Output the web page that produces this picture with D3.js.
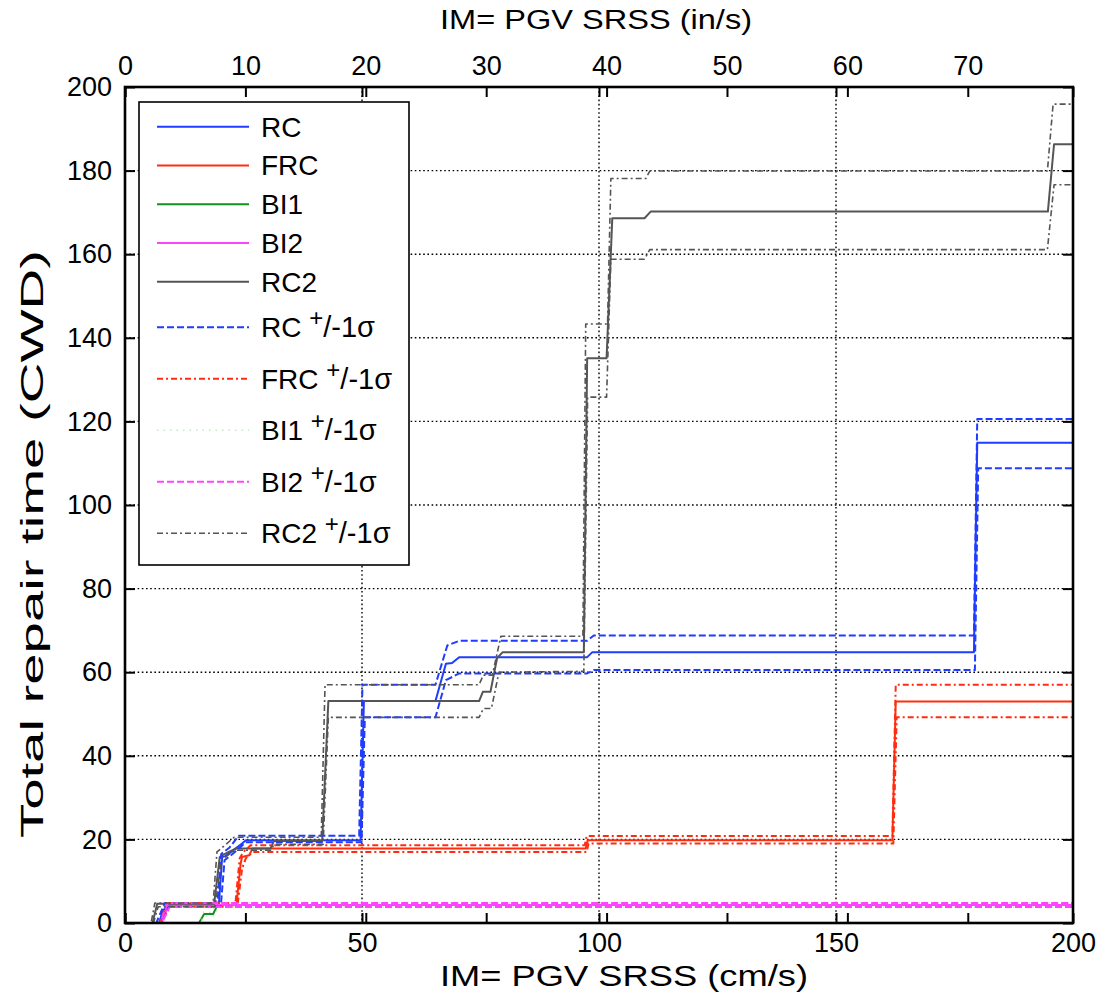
<!DOCTYPE html>
<html>
<head>
<meta charset="utf-8">
<script src="https://cdn.jsdelivr.net/npm/d3@7"></script>
<style>
  html, body { margin: 0; padding: 0; background: #fff; }
  svg { display: block; }
  text { font-family: "Liberation Sans", Arial, Helvetica, sans-serif; fill: #000; }
</style>
</head>
<body>
<svg id="chart" width="1104" height="998"></svg>
<script>
// ---------------- DATA (x: PGV SRSS cm/s, y: total repair time CWD) ----------------
const rc = [[0,0],[7.2,0],[7.9,2.7],[8.9,4.3],[19.8,4.3],[20.5,15.8],[21.2,16],[22.6,17.2],[24.7,19.0],[25.5,19.8],[49.7,19.8],[50.4,53.1],[65.5,53.1],[67.7,62],[69,62.2],[70.5,63.6],[97.5,63.6],[98.6,64.8],[179.1,64.8],[179.8,114.9],[200,114.9]];
const rcUp = [[0,0],[6.6,0],[8.4,4.8],[19.5,4.8],[20.3,16.5],[22,18],[24,20.9],[49.4,20.9],[50.1,57],[65.5,57],[68,66.4],[70.5,67.5],[97.5,67.5],[98.9,68.8],[179.1,68.8],[179.8,120.6],[200,120.6]];
const rcLo = [[0,0],[7.4,0],[9.2,3.9],[20.2,3.9],[21,15],[23,16.8],[25.5,19.3],[49.9,19.3],[50.6,49.2],[65.5,49.2],[67.7,58.1],[70.5,59.7],[97.5,59.7],[98.9,60.5],[179.3,60.5],[180,108.8],[200,108.8]];

const frc = [[0,0],[7.5,0],[9.1,4.3],[23.5,4.3],[24.4,14.2],[24.7,15.8],[26.2,16.2],[26.9,17.8],[97.2,17.8],[97.6,19.8],[161.9,19.8],[162.6,53],[200,53]];
const frcUp = [[0,0],[7.3,0],[8.9,4.8],[23.3,4.8],[24.2,15.5],[25,17],[26.5,18.6],[97,18.6],[97.4,20.8],[161.9,20.8],[162.6,57],[200,57]];
const frcLo = [[0,0],[7.7,0],[9.3,3.9],[23.7,3.9],[24.7,13],[25.5,15.5],[27,17],[97.4,17],[97.8,19],[162.1,19],[162.8,49.2],[200,49.2]];

const bi1 = [[0,0],[15.6,0],[16.7,2.15],[18.6,2.15],[19.5,4.3],[200,4.3]];
const bi1Up = [[0,0],[15.4,0],[16.5,2.6],[18.4,2.6],[19.3,4.8],[200,4.8]];
const bi1Lo = [[0,0],[15.8,0],[16.9,1.7],[18.8,1.7],[19.7,3.8],[200,3.8]];

const bi2 = [[0,0],[7.6,0],[9.2,4.3],[200,4.3]];
const bi2Up = [[0,0],[7.4,0],[9.0,4.8],[200,4.8]];
const bi2Lo = [[0,0],[7.8,0],[9.4,3.8],[200,3.8]];

const rc2 = [[0,0],[5.8,0],[6.8,4.6],[18.8,4.6],[20,15.8],[20.5,16.2],[21.9,17],[23.4,17.8],[30.7,17.8],[31.4,19.6],[41.6,19.6],[42.9,53.1],[74.7,53.1],[75.5,55.3],[77.1,55.3],[78.5,63.4],[79.7,64.8],[96.8,64.8],[97.5,135.1],[101.6,135.1],[102.8,168.6],[109.6,168.6],[110.9,170.2],[194.7,170.2],[196,186.3],[200,186.3]];
const rc2Up = [[0,0],[5.5,0],[6.3,4.8],[18.6,4.8],[19.4,17],[21,18.5],[23,20.5],[41.4,20.5],[42.2,57],[74.7,57],[75.6,59.3],[77.5,59.3],[79.3,68.6],[96.6,68.6],[97.2,143.3],[101.8,143.3],[102.5,178.1],[109.9,178.1],[110.7,179.9],[194.6,179.9],[195.8,195.9],[200,195.9]];
const rc2Lo = [[0,0],[6,0],[7,3.9],[19,3.9],[20.3,15],[22,16.5],[23.5,17.4],[30.7,17.4],[31.5,18.8],[41.8,18.8],[42.9,49.2],[74.7,49.2],[75.6,51.3],[77.3,51.3],[78.9,60],[96.8,60.2],[97.6,125.8],[101.6,125.8],[102.5,158.8],[109.6,158.8],[110.7,161.1],[194.6,161.1],[196,176.6],[200,176.6]];

const xTicksCm = [0, 50, 100, 150, 200];
const xTicksIn = [0, 10, 20, 30, 40, 50, 60, 70];
const yTicks = [0, 20, 40, 60, 80, 100, 120, 140, 160, 180, 200];
const gridY = [20, 40, 60, 80, 100, 120, 140, 160, 180];
const gridX = [50, 100, 150];

const legendLabels = ["RC", "FRC", "BI1", "BI2", "RC2", "RC", "FRC", "BI1", "BI2", "RC2"];

// ---------------- STYLE ----------------
const BLUE = "#1f3cff", RED = "#ff2d0f", GREEN = "#14901e", PINK = "#ff44ff", GRAY = "#555555";
const series = [
  { d: rc,  color: BLUE,  dash: null, w: 2 },
  { d: frc, color: RED,   dash: null, w: 2 },
  { d: bi1, color: GREEN, dash: null, w: 2 },
  { d: bi2, color: PINK,  dash: null, w: 2 },
  { d: rc2, color: GRAY,  dash: null, w: 2 },
  { d: rcUp,  color: BLUE, dash: "7,3", w: 2 }, { d: rcLo,  color: BLUE, dash: "7,3", w: 2 },
  { d: frcUp, color: RED,  dash: "6,3,2,3", w: 2 }, { d: frcLo, color: RED, dash: "6,3,2,3", w: 2 },
  { d: bi1Up, color: "#c6e6c6", dash: "1.5,5", w: 1.5 }, { d: bi1Lo, color: "#c6e6c6", dash: "1.5,5", w: 1.5 },
  { d: bi2Up, color: PINK, dash: "7,3", w: 2 }, { d: bi2Lo, color: PINK, dash: "7,3", w: 2 },
  { d: rc2Up, color: GRAY, dash: "6,3,2,3", w: 1.6 }, { d: rc2Lo, color: GRAY, dash: "6,3,2,3", w: 1.6 }
];
const legendStyles = [series[0], series[1], series[2], series[3], series[4], series[5], series[7], series[9], series[11], series[13]];

// ---------------- CHART ----------------
const L = 125, R = 1073, T = 87, B = 923;
const svg = d3.select("#chart");
const x = d3.scaleLinear().domain([0, 200]).range([L, R]);
const xIn = d3.scaleLinear().domain([0, 200 / 2.54]).range([L, R]);
const y = d3.scaleLinear().domain([0, 200]).range([B, T]);

// grid
const grid = svg.append("g").attr("stroke", "#000").attr("stroke-width", 1.4).attr("stroke-dasharray", "1.6,2.6");
grid.selectAll("line.gy").data(gridY).join("line")
  .attr("x1", L).attr("x2", R).attr("y1", d => y(d)).attr("y2", d => y(d));
grid.selectAll("line.gx").data(gridX).join("line")
  .attr("y1", T).attr("y2", B).attr("x1", d => x(d)).attr("x2", d => x(d));

// data lines
svg.append("clipPath").attr("id", "clip").append("rect")
  .attr("x", L).attr("y", T - 1).attr("width", R - L).attr("height", B - T + 1);
const line = d3.line().x(d => x(d[0])).y(d => y(d[1]));
svg.append("g").attr("clip-path", "url(#clip)")
  .selectAll("path").data(series).join("path")
  .attr("d", s => line(s.d))
  .attr("fill", "none")
  .attr("stroke", s => s.color)
  .attr("stroke-width", s => s.w)
  .attr("stroke-dasharray", s => s.dash)
  .attr("stroke-linejoin", "round");

// axes
const TS = 10;
function styleAxis(g, labels) {
  g.select(".domain").remove();
  g.selectAll(".tick line").attr("stroke", "#000").attr("stroke-width", 2);
  g.selectAll(".tick text").attr("font-size", 27).attr("fill", "#000");
  if (!labels) g.selectAll(".tick text").remove();
}
svg.append("g").attr("transform", `translate(0,${B})`)
  .call(d3.axisBottom(x).tickValues(xTicksCm).tickSize(-TS).tickPadding(10).tickFormat(d3.format("d")))
  .call(g => styleAxis(g, true));
svg.append("g").attr("transform", `translate(0,${T})`)
  .call(d3.axisTop(x).tickValues(xTicksCm).tickSize(-TS))
  .call(g => styleAxis(g, false));
svg.append("g").attr("transform", `translate(0,${T})`)
  .call(d3.axisTop(xIn).tickValues(xTicksIn).tickSize(-TS).tickPadding(12).tickFormat(d3.format("d")))
  .call(g => styleAxis(g, true));
svg.append("g").attr("transform", `translate(0,${B})`)
  .call(d3.axisBottom(xIn).tickValues(xTicksIn).tickSize(-TS))
  .call(g => styleAxis(g, false));
svg.append("g").attr("transform", `translate(${L},0)`)
  .call(d3.axisLeft(y).tickValues(yTicks).tickSize(-TS).tickPadding(13).tickFormat(d3.format("d")))
  .call(g => styleAxis(g, true));
svg.append("g").attr("transform", `translate(${R},0)`)
  .call(d3.axisRight(y).tickValues(yTicks).tickSize(-TS))
  .call(g => styleAxis(g, false));

// frame
svg.append("rect").attr("x", L).attr("y", T).attr("width", R - L).attr("height", B - T)
  .attr("fill", "none").attr("stroke", "#000").attr("stroke-width", 2.6);

// titles
svg.append("text").attr("x", 440).attr("y", 986).attr("font-size", 29)
  .attr("textLength", 368).attr("lengthAdjust", "spacingAndGlyphs")
  .text("IM= PGV SRSS (cm/s)");
svg.append("text").attr("x", 440).attr("y", 29).attr("font-size", 27)
  .attr("textLength", 312).attr("lengthAdjust", "spacingAndGlyphs")
  .text("IM= PGV SRSS (in/s)");
svg.append("text").attr("transform", "translate(43,838) rotate(-90)").attr("font-size", 31)
  .attr("textLength", 588).attr("lengthAdjust", "spacingAndGlyphs")
  .text("Total repair time (CWD)");

// legend
const lg = svg.append("g");
lg.append("rect").attr("x", 139).attr("y", 102).attr("width", 270).attr("height", 463)
  .attr("fill", "#fff").attr("stroke", "#000").attr("stroke-width", 1.6);
const ly = i => i < 5 ? 126.7 + i * 38.75 : 327.3 + (i - 5) * 51.5;
legendStyles.forEach((s, i) => {
  lg.append("line").attr("x1", 157).attr("x2", 249).attr("y1", ly(i)).attr("y2", ly(i))
    .attr("stroke", s.color).attr("stroke-width", s.w).attr("stroke-dasharray", s.dash);
  const t = lg.append("text").attr("x", 261).attr("y", ly(i) + 10).attr("font-size", 28);
  if (i < 5) {
    t.text(legendLabels[i]);
  } else {
    t.append("tspan").text(legendLabels[i] + " ");
    t.append("tspan").attr("dy", -11).attr("font-size", 24).text("+");
    t.append("tspan").attr("dy", 11).attr("font-size", 29).text("/-1σ");
  }
});
</script>
</body>
</html>
